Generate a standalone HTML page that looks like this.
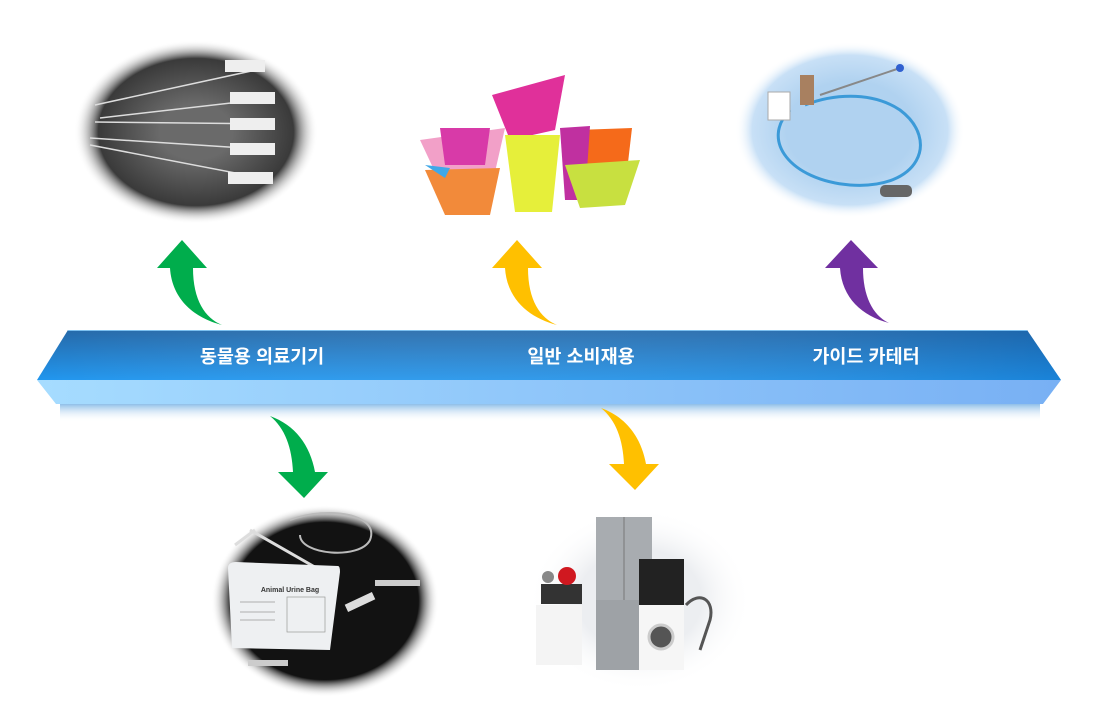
<!DOCTYPE html>
<html><head><meta charset="utf-8"><style>
html,body{margin:0;padding:0;background:#fff;}
svg{display:block;}
text{font-family:"Liberation Sans","Noto Sans CJK KR",sans-serif;}
</style></head><body>
<svg width="1104" height="722" viewBox="0 0 1104 722" xmlns="http://www.w3.org/2000/svg">
<defs>
<linearGradient id="top" x1="0" y1="0" x2="0" y2="1">
<stop offset="0" stop-color="#2468a8"/><stop offset="1" stop-color="#2196ee"/></linearGradient>
<linearGradient id="topR" x1="0" y1="0" x2="1" y2="0">
<stop offset="0" stop-color="#fff" stop-opacity="0"/><stop offset="1" stop-color="#0a5fb0" stop-opacity="0.35"/></linearGradient>
<linearGradient id="bot" x1="0" y1="0" x2="1" y2="0">
<stop offset="0" stop-color="#a6dcff"/><stop offset="1" stop-color="#78b0f4"/></linearGradient>
<linearGradient id="shad" x1="0" y1="0" x2="0" y2="1">
<stop offset="0" stop-color="#8fbfe8"/><stop offset="1" stop-color="#fff" stop-opacity="0"/></linearGradient>
<radialGradient id="g1"><stop offset="0.3" stop-color="#6a6a6a"/><stop offset="0.8" stop-color="#3a3a3a"/><stop offset="1" stop-color="#fff" stop-opacity="0"/></radialGradient>
<radialGradient id="g2"><stop offset="0.6" stop-color="#fff"/><stop offset="1" stop-color="#fff" stop-opacity="0"/></radialGradient>
<radialGradient id="g3"><stop offset="0.55" stop-color="#b0d2f0"/><stop offset="0.85" stop-color="#c8e0f6"/><stop offset="1" stop-color="#fff" stop-opacity="0"/></radialGradient>
<radialGradient id="g4"><stop offset="0.82" stop-color="#121212"/><stop offset="1" stop-color="#fff" stop-opacity="0"/></radialGradient>
<radialGradient id="g5"><stop offset="0.55" stop-color="#eceef1"/><stop offset="1" stop-color="#fff" stop-opacity="0"/></radialGradient>
</defs>

<ellipse cx="196" cy="132" rx="122" ry="92" fill="url(#g1)"/>
<g stroke="#ddd" stroke-width="1.5">
<line x1="95" y1="105" x2="265" y2="68"/><line x1="100" y1="118" x2="275" y2="98"/>
<line x1="95" y1="122" x2="275" y2="124"/><line x1="90" y1="138" x2="275" y2="150"/>
<line x1="90" y1="145" x2="272" y2="180"/></g>
<g fill="#eee"><rect x="225" y="60" width="40" height="12"/><rect x="230" y="92" width="45" height="12"/><rect x="230" y="118" width="45" height="12"/><rect x="230" y="143" width="45" height="12"/><rect x="228" y="172" width="45" height="12"/></g>

<ellipse cx="527" cy="145" rx="130" ry="85" fill="url(#g2)"/>
<path d="M492 95 L565 75 L555 130 L510 140Z" fill="#e0309a"/>
<path d="M420 140 L505 128 L495 172 L435 172Z" fill="#f2a0c8"/>
<path d="M505 135 L560 135 L552 212 L515 212Z" fill="#e6ef3a"/>
<path d="M440 128 L490 128 L485 165 L445 165Z" fill="#d83aa8"/>
<path d="M425 170 L500 168 L490 215 L445 215Z" fill="#f28a3a"/>
<path d="M577 130 L632 128 L626 180 L582 180Z" fill="#f56a1a"/>
<path d="M560 128 L590 126 L585 200 L565 200Z" fill="#c030a0"/>
<path d="M565 165 L640 160 L625 205 L580 208Z" fill="#c8e040"/>
<path d="M425 165 L450 168 L445 178 Z" fill="#40a8e8"/>

<ellipse cx="850" cy="130" rx="115" ry="88" fill="url(#g3)"/>
<path d="M790 110 C760 140 790 180 850 185 C920 190 940 140 900 110 C870 90 830 95 805 105" fill="none" stroke="#3b9ad8" stroke-width="3"/>
<line x1="820" y1="95" x2="900" y2="68" stroke="#888" stroke-width="2"/>
<rect x="768" y="92" width="22" height="28" fill="#fff" stroke="#aaa"/>
<rect x="800" y="75" width="14" height="30" fill="#a88060"/>
<rect x="880" y="185" width="32" height="12" rx="5" fill="#666"/>
<circle cx="900" cy="68" r="4" fill="#3060d0"/>

<path d="M157,268 L182,240 L207,268 L193,268 C193,300 205,318 222,325 C195,318 172,300 170,268 Z" fill="#00ad4c"/>
<path d="M157,268 L182,240 L207,268 L193,268 C193,300 205,318 222,325 C195,318 172,300 170,268 Z" fill="#ffc000" transform="translate(335,0)"/>
<path d="M825,268 L851,240 L878,268 L863,268 C863,295 872,315 889,323 C862,316 842,298 840,268 Z" fill="#7030a0"/>

<path d="M56,404 L37,380 L1061,380 L1043,404 Z" fill="url(#bot)"/>
<rect x="60" y="404" width="980" height="18" fill="url(#shad)"/>
<path d="M37,380 L68,330 L1027,330 L1061,380 Z" fill="url(#top)"/>
<path d="M37,380 L68,330 L1027,330 L1061,380 Z" fill="url(#topR)"/>
<line x1="68" y1="330.5" x2="1027" y2="330.5" stroke="#7cc0f0" stroke-width="1"/>
<text x="262" y="363" fill="#fff" font-size="18.5" font-weight="bold" text-anchor="middle">동물용 의료기기</text>
<text x="581" y="363" fill="#fff" font-size="18.5" font-weight="bold" text-anchor="middle">일반 소비재용</text>
<text x="866" y="363" fill="#fff" font-size="18.5" font-weight="bold" text-anchor="middle">가이드 카테터</text>

<path d="M270,416 C295,425 310,445 315,472 L328,472 L304,498 L278,472 L293,472 C292,448 285,428 270,416 Z" fill="#00ad4c"/>
<path d="M270,416 C295,425 310,445 315,472 L328,472 L304,498 L278,472 L293,472 C292,448 285,428 270,416 Z" fill="#ffc000" transform="translate(331,-8)"/>

<ellipse cx="325" cy="601" rx="114" ry="96" fill="url(#g4)"/>
<path d="M290 520 C330 505 380 515 370 540 C360 560 300 555 300 535" fill="none" stroke="#bbb" stroke-width="2"/>
<path d="M250 530 L320 570 M235 545 L255 530" stroke="#ddd" stroke-width="3" fill="none"/>
<path d="M236 562 L338 566 Q340 566 340 572 L330 650 L232 648 L228 568 Q228 562 236 562Z" fill="#eef0f2"/>
<text x="290" y="592" font-size="7" fill="#333" text-anchor="middle" font-weight="bold">Animal Urine Bag</text>
<g stroke="#999" stroke-width="0.7"><line x1="240" y1="602" x2="275" y2="602"/><line x1="240" y1="612" x2="275" y2="612"/><line x1="240" y1="620" x2="275" y2="620"/><rect x="287" y="597" width="38" height="35" fill="none"/></g>
<rect x="345" y="598" width="30" height="8" fill="#ddd" transform="rotate(-25 360 602)"/>
<rect x="375" y="580" width="45" height="6" fill="#ccc"/>
<rect x="248" y="660" width="40" height="6" fill="#ccc"/>

<ellipse cx="640" cy="600" rx="112" ry="92" fill="url(#g5)"/>
<rect x="596" y="517" width="56" height="153" fill="#a8acb0"/>
<line x1="624" y1="517" x2="624" y2="600" stroke="#777"/>
<rect x="596" y="600" width="56" height="70" fill="#9ea2a6"/>
<rect x="639" y="559" width="45" height="46" fill="#222"/>
<rect x="639" y="605" width="45" height="65" fill="#f6f6f6"/>
<circle cx="661" cy="637" r="12" fill="#555" stroke="#ccc" stroke-width="3"/>
<rect x="536" y="605" width="46" height="60" fill="#f4f4f4"/>
<rect x="541" y="584" width="41" height="20" fill="#333"/>
<circle cx="567" cy="576" r="9" fill="#d01820"/>
<circle cx="548" cy="577" r="6" fill="#888"/>
<path d="M686 605 C700 590 715 600 710 620 L700 650" fill="none" stroke="#555" stroke-width="3"/>
</svg>
</body></html>
